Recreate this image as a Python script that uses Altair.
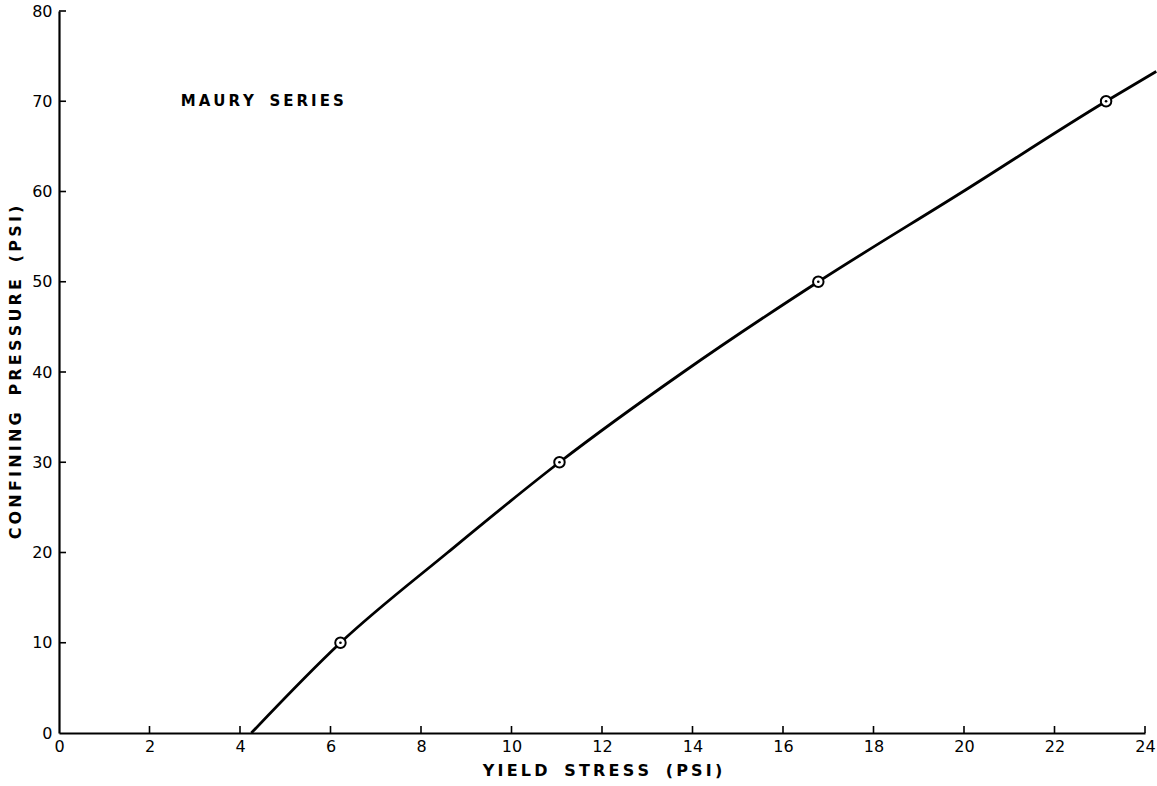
import altair as alt
import pandas as pd

# Yield stress (psi) vs confining pressure (psi), Maury series
point_stress = [6.22, 11.06, 16.78, 23.14]
point_pressure = [10, 30, 50, 70]

curve_stress = [4.25, 6.22, 8.59, 11.06, 13.8, 16.78, 19.98, 23.14, 24.25]
curve_pressure = [0, 10, 20, 30, 40, 50, 60, 70, 73.3]

x_ticks = [0, 2, 4, 6, 8, 10, 12, 14, 16, 18, 20, 22, 24]
y_ticks = [0, 10, 20, 30, 40, 50, 60, 70, 80]

W, H = 1086, 722
FONT = "DejaVu Sans"


def lettered(s, gap="\u2009", word="\u00a0\u00a0\u00a0"):
    """Spread capitals apart like stencil lettering."""
    return word.join(gap.join(w) for w in s.split(" "))


points = pd.DataFrame({"stress": point_stress, "pressure": point_pressure})
curve = pd.DataFrame({"stress": curve_stress, "pressure": curve_pressure})
xt = pd.DataFrame({"v": x_ticks[1:]})
yt = pd.DataFrame({"v": y_ticks[1:]})
label = pd.DataFrame({"stress": [2.69], "pressure": [70], "t": [lettered("MAURY SERIES")]})

xs = alt.Scale(domain=[0, 24], nice=False, zero=False)
ys = alt.Scale(domain=[0, 80], nice=False, zero=False)

x_axis = alt.Axis(values=x_ticks, format="d", ticks=False, grid=False,
                  domainColor="black", domainWidth=2.2,
                  labelFont=FONT, labelFontSize=16, labelColor="black",
                  labelPadding=5, labelFlush=False,
                  title=lettered("YIELD STRESS (PSI)"), titleFont=FONT, titleFontSize=16,
                  titleFontWeight="bold", titleColor="black", titlePadding=8)
y_axis = alt.Axis(values=y_ticks, format="d", ticks=False, grid=False,
                  domainColor="black", domainWidth=2.2,
                  labelFont=FONT, labelFontSize=16, labelColor="black",
                  labelPadding=7, labelFlush=False,
                  title=lettered("CONFINING PRESSURE (PSI)"), titleFont=FONT, titleFontSize=16,
                  titleFontWeight="bold", titleColor="black", titlePadding=8)

line = alt.Chart(curve).mark_line(color="black", strokeWidth=2.8, interpolate="monotone",
                                  clip=False).encode(
    x=alt.X("stress:Q", scale=xs, axis=x_axis),
    y=alt.Y("pressure:Q", scale=ys, axis=y_axis),
)

rings = alt.Chart(points).mark_point(shape="circle", size=110, filled=True, fill="white",
                                     stroke="black", strokeWidth=2, opacity=1).encode(
    x=alt.X("stress:Q", scale=xs), y=alt.Y("pressure:Q", scale=ys))
dots = alt.Chart(points).mark_point(shape="circle", size=7, filled=True, color="black",
                                    opacity=1).encode(
    x=alt.X("stress:Q", scale=xs), y=alt.Y("pressure:Q", scale=ys))

# inward ticks on both axes
x_tick_marks = alt.Chart(xt).mark_rule(color="black", strokeWidth=1.6).encode(
    x=alt.X("v:Q", scale=xs), y=alt.value(H), y2=alt.value(H - 7))
y_tick_marks = alt.Chart(yt).mark_rule(color="black", strokeWidth=1.6).encode(
    y=alt.Y("v:Q", scale=ys), x=alt.value(0), x2=alt.value(7))

text = alt.Chart(label).mark_text(align="left", baseline="middle", font=FONT,
                                  fontSize=15, fontWeight="bold", color="black").encode(
    x=alt.X("stress:Q", scale=xs), y=alt.Y("pressure:Q", scale=ys), text="t:N")

chart = alt.layer(line, x_tick_marks, y_tick_marks, rings, dots, text).properties(
    width=W, height=H,
    autosize=alt.AutoSizeParams(type="none"),
    padding={"left": 59, "top": 11, "right": 12, "bottom": 53},
    background="white",
).configure_view(stroke=None)

chart.save("out.html", embed_options={"renderer": "svg", "actions": False})
